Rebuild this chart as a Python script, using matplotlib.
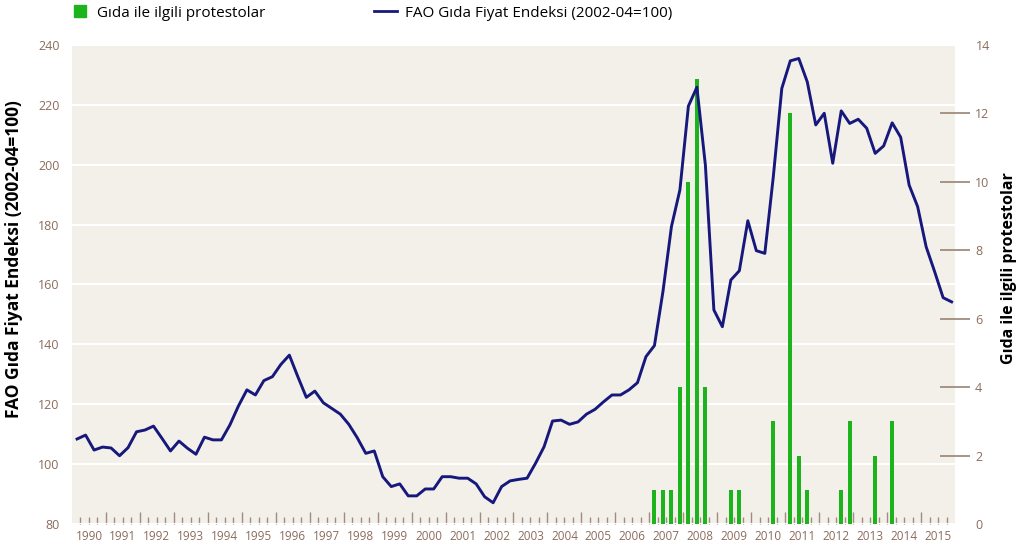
import matplotlib
matplotlib.use("Agg")
import numpy as np
from matplotlib import pyplot as plt
from matplotlib.lines import Line2D

# FAO food price index, quarterly 1990 Q1 - 2015 Q4
fao_index = [
    108.4, 109.7, 104.7, 105.7, 105.4, 102.8, 105.5, 110.8, 111.4, 112.7,
    108.6, 104.4, 107.7, 105.3, 103.3, 109.0, 108.1, 108.1, 113.1, 119.4,
    124.8, 123.1, 127.9, 129.2, 133.3, 136.4, 129.2, 122.3, 124.4, 120.5,
    118.6, 116.7, 113.3, 108.8, 103.6, 104.4, 95.8, 92.5, 93.4, 89.4,
    89.4, 91.7, 91.7, 95.8, 95.8, 95.3, 95.3, 93.4, 89.1, 87.1,
    92.5, 94.4, 94.9, 95.3, 100.3, 105.8, 114.4, 114.7, 113.3, 114.1,
    116.7, 118.3, 120.8, 123.1, 123.1, 124.8, 127.2, 135.9, 139.6,
    157.6, 179.3, 191.6, 219.6, 225.9, 199.9, 151.5, 145.9, 161.5, 164.6,
    181.3, 171.3, 170.4, 196.0, 225.5, 234.7, 235.5, 227.7, 213.3, 217.2,
    200.5, 218.0, 213.8, 215.2, 212.2, 203.8, 206.3, 214.0, 209.2, 193.2,
    186.0, 172.6, 164.3, 155.6, 154.2,
]

# food related protests per quarter
protest_year = [2007, 2007, 2007, 2007, 2008, 2008, 2008, 2009, 2009, 2010,
                2011, 2011, 2011, 2012, 2012, 2013, 2014]
protest_quarter = [1, 2, 3, 4, 1, 2, 3, 2, 3, 3, 1, 2, 3, 3, 4, 3, 1]
protest_count = [1, 1, 1, 4, 10, 13, 4, 1, 1, 3, 12, 2, 1, 1, 3, 2, 3]

years = list(range(1990, 2016))
left_ticks = list(range(80, 241, 20))
right_ticks = [2, 4, 6, 8, 10, 12]

BG = "#F3F0EA"
NAVY = "#17187C"
GREEN = "#1DB31D"
BROWN = "#8B6C5C"
TICK = "#A08C7E"

plt.rcParams["font.family"] = ["Open Sans", "DejaVu Sans"]

fig = plt.figure(figsize=(10.19, 5.47), dpi=100)
ax = fig.add_axes([72 / 1019, 23 / 547, 883 / 1019, 479 / 547])
ax.set_facecolor(BG)
for s in ax.spines.values():
    s.set_visible(False)
ax.set_xlim(1990, 2016)
ax.set_ylim(80, 240)
ax.set_yticks(left_ticks)
ax.yaxis.grid(True, color="white", linewidth=1.5)
ax.set_axisbelow(True)
ax.tick_params(axis="y", length=0, pad=9, labelcolor=BROWN, labelsize=9)

# year ticks at boundaries, quarter ticks between, labels centred in the year
ax.set_xticks(years[1:], [""] * (len(years) - 1))
minor_pos = [y + q / 4 for y in years for q in (1, 2, 3)]
minor_lab = [str(y) if q == 2 else "" for y in years for q in (1, 2, 3)]
ax.set_xticks(minor_pos, minor_lab, minor=True)
ax.tick_params(axis="x", which="major", direction="in", length=9, width=1, color=TICK)
ax.tick_params(axis="x", which="minor", direction="in", length=5, width=1, color=TICK,
               pad=4, labelcolor=BROWN, labelsize=8.5)

ax.set_ylabel("FAO Gıda Fiyat Endeksi (2002-04=100)", fontsize=12.5, fontweight="bold")
ax.yaxis.set_label_coords(-0.0555, 0.554)

# protests on the right axis
ax2 = ax.twinx()
for s in ax2.spines.values():
    s.set_visible(False)
bar_x = [y + (q - 0.4) / 4 for y, q in zip(protest_year, protest_quarter)]
ax2.bar(bar_x, protest_count, width=0.12, color=GREEN, zorder=2)
ax2.set_ylim(0, 14)
ax2.set_yticks(right_ticks)
ax2.set_yticks([0, 14], ["0", "14"], minor=True)
ax2.tick_params(axis="y", which="major", direction="inout", length=21, width=1.3,
                color=TICK, pad=4, labelcolor=BROWN, labelsize=9)
ax2.tick_params(axis="y", which="minor", length=0, pad=15, labelcolor=BROWN, labelsize=9)
ax2.set_ylabel("Gıda ile ilgili protestolar", fontsize=11.5, fontweight="bold")
ax2.yaxis.set_label_coords(1.052, 0.534)

# index line on top of the bars
ax3 = ax.twinx()
for s in ax3.spines.values():
    s.set_visible(False)
ax3.set_yticks([])
quarter_x = [1990 + (i + 0.6) / 4 for i in range(len(fao_index))]
ax3.plot(quarter_x, fao_index, color=NAVY, linewidth=2.1)
ax3.set_ylim(80, 240)
ax3.set_xlim(1990, 2016)

leg_font = {"family": ["Open Sans", "DejaVu Sans"], "size": 11}
h1 = Line2D([], [], marker="s", linestyle="none", color=GREEN, markersize=9)
h2 = Line2D([], [], color=NAVY, linewidth=2)
fig.legend([h1], ["Gıda ile ilgili protestolar"], loc="center left",
           bbox_to_anchor=(72.5 / 1019, 0.976), frameon=False, prop=leg_font,
           handlelength=1.0, handletextpad=0.6, borderpad=0, borderaxespad=0)
fig.legend([h2], ["FAO Gıda Fiyat Endeksi (2002-04=100)"], loc="center left",
           bbox_to_anchor=(374 / 1019, 0.976), frameon=False, prop=leg_font,
           handlelength=1.5, handletextpad=0.52, borderpad=0, borderaxespad=0)

fig.savefig("out.png", dpi=100, facecolor="white")
